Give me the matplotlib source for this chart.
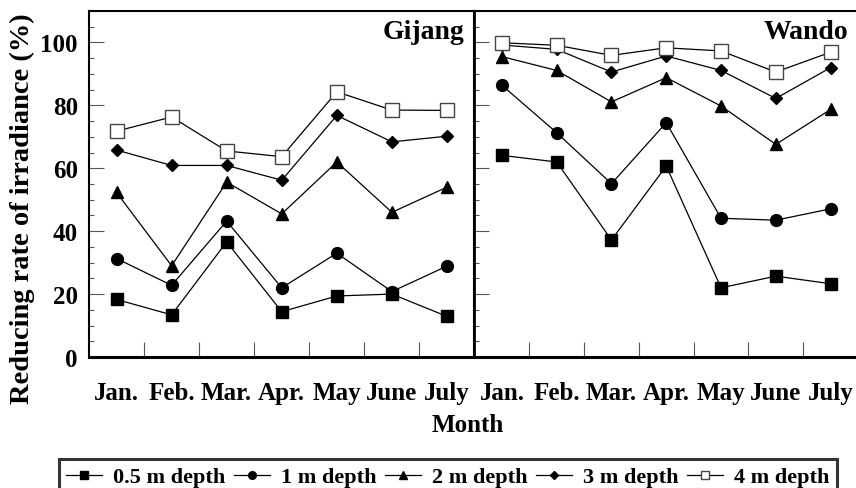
import numpy as np
import matplotlib
matplotlib.use("Agg")
import matplotlib.pyplot as plt
from matplotlib.ticker import MultipleLocator, FixedLocator

plt.rcParams["font.family"] = ["Liberation Serif", "DejaVu Serif"]
plt.rcParams["font.weight"] = "bold"

# Months shown on each panel
months = ["Jan.", "Feb.", "Mar.", "Apr.", "May", "June", "July"]
depths = ["0.5 m depth", "1 m depth", "2 m depth", "3 m depth", "4 m depth"]

# Gijang - reducing rate of irradiance (%)
gijang_05 = [18.3, 13.4, 36.6, 14.4, 19.4, 20.0, 12.9]
gijang_1 = [31.3, 22.8, 43.2, 22.0, 33.0, 20.8, 28.9]
gijang_2 = [52.3, 29.0, 55.6, 45.5, 62.0, 46.0, 54.0]
gijang_3 = [65.8, 60.9, 60.9, 56.2, 76.8, 68.4, 70.2]
gijang_4 = [71.8, 76.3, 65.5, 63.7, 84.3, 78.5, 78.4]

# Wando
wando_05 = [64.1, 62.0, 37.2, 60.7, 22.0, 25.7, 23.3]
wando_1 = [86.4, 71.3, 55.1, 74.5, 44.1, 43.5, 47.1]
wando_2 = [95.5, 91.1, 81.1, 88.8, 79.8, 67.6, 78.7]
wando_3 = [99.2, 97.8, 90.6, 95.7, 91.1, 82.2, 92.0]
wando_4 = [99.9, 99.1, 95.9, 98.3, 97.3, 90.6, 96.9]

styles = [
    dict(marker="s", ms=8.5, mfc="black", mec="black"),
    dict(marker="o", ms=8.5, mfc="black", mec="black"),
    dict(marker="^", ms=9, mfc="black", mec="black"),
    dict(marker="D", ms=6.5, mfc="black", mec="black"),
    dict(marker="s", ms=9.5, mfc="white", mec="#444444", mew=1.0),
]

fig = plt.figure(figsize=(8.56, 4.89), dpi=100)
ax1 = fig.add_axes([89 / 856, 1 - 358 / 489, 385.5 / 856, 346 / 489])
ax2 = fig.add_axes([474.5 / 856, 1 - 358 / 489, 383.5 / 856, 346 / 489])

x = np.arange(len(months))
panels = [(ax1, "Gijang", [gijang_05, gijang_1, gijang_2, gijang_3, gijang_4]),
          (ax2, "Wando", [wando_05, wando_1, wando_2, wando_3, wando_4])]

for ax, name, series in panels:
    for vals, st, lab in zip(series, styles, depths):
        ax.plot(x, vals, color="black", lw=0.9, label=lab, **st)
    ax.set_xlim(-0.5, 6.5)
    ax.set_ylim(0, 110)
    ax.yaxis.set_major_locator(MultipleLocator(20))
    ax.yaxis.set_minor_locator(MultipleLocator(5))
    ax.xaxis.set_major_locator(FixedLocator(x[:-1] + 0.5))
    ax.xaxis.set_minor_locator(FixedLocator(x))
    ax.set_xticklabels([])
    ax.set_xticklabels(months, minor=True)
    ax.tick_params(axis="x", which="major", direction="in", length=11, width=0.8, color="#555555")
    ax.tick_params(axis="x", which="minor", length=0, pad=17, labelsize=18)
    ax.tick_params(axis="y", which="major", direction="in", length=11, width=0.8,
                   color="#555555", labelsize=18, pad=8)
    ax.tick_params(axis="y", which="minor", direction="in", length=3.5, width=0.8, color="#555555")
    for side in ["left", "right", "top"]:
        ax.spines[side].set_linewidth(1.5)
    ax.spines["bottom"].set_linewidth(2.2)
    ax.text(0.975, 0.94, name, transform=ax.transAxes, ha="right", va="center",
            fontsize=20, fontweight="bold")

ax2.tick_params(axis="y", labelleft=False)
ax2.spines["left"].set_linewidth(2.0)

fig.text(22 / 856, 1 - 209 / 489, "Reducing rate of irradiance (%)", rotation=90,
         ha="center", va="center", fontsize=20.5, fontweight="bold")
fig.text(468 / 856, 1 - 426 / 489, "Month", ha="center", va="center", fontsize=18, fontweight="bold")

handles, labels = ax1.get_legend_handles_labels()
leg = fig.legend(handles, labels, loc="upper center", bbox_to_anchor=(448 / 856, 1 - 449 / 489),
                 ncol=5, frameon=True, fancybox=False, edgecolor="black", fontsize=16,
                 handlelength=1.6, handletextpad=0.5, columnspacing=0.4, borderpad=0.35,
                 markerscale=0.65)
leg.get_frame().set_linewidth(2.2)

fig.savefig("out.png", dpi=100)
